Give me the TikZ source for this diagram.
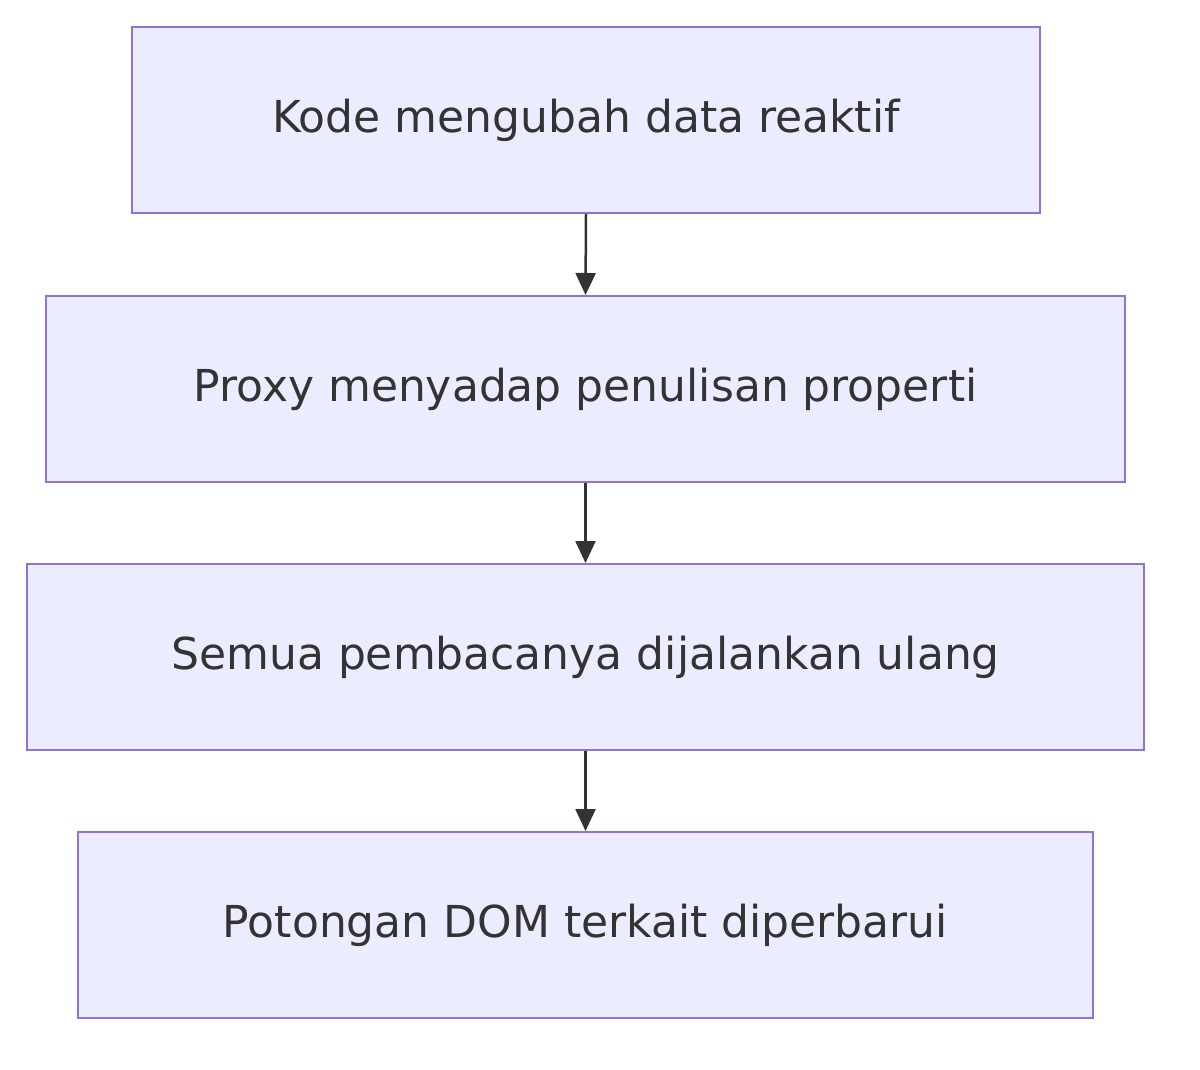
\documentclass[tikz,border=0pt]{standalone}
\usepackage{fontspec}
\setmainfont{DejaVu Sans}
\usetikzlibrary{arrows.meta}
\definecolor{boxfill}{HTML}{ECECFF}
\definecolor{boxline}{HTML}{9370DB}
\definecolor{txt}{HTML}{333333}
\begin{document}
\begin{tikzpicture}[x=1pt,y=-1pt,
  box/.style={draw=boxline,fill=boxfill,line width=2pt,minimum height=186pt,text=txt,font=\fontsize{44}{52}\selectfont,inner sep=0pt},
  arr/.style={draw=txt,line width=2.5pt,-{Triangle[length=22pt,width=20pt]}}]
\useasboundingbox (0,0) rectangle (1200,1070);
\node[box,minimum width=908pt] (a) at (586,120) {Kode mengubah data reaktif};
\node[box,minimum width=1079pt] (b) at (585.5,389) {Proxy menyadap penulisan properti};
\node[box,minimum width=1117pt] (c) at (585.5,657) {Semua pembacanya dijalankan ulang};
\node[box,minimum width=1015pt] (d) at (585.5,925) {Potongan DOM terkait diperbarui};
\draw[arr] (a.south) -- (b.north);
\draw[arr] (b.south) -- (c.north);
\draw[arr] (c.south) -- (d.north);
\end{tikzpicture}
\end{document}
